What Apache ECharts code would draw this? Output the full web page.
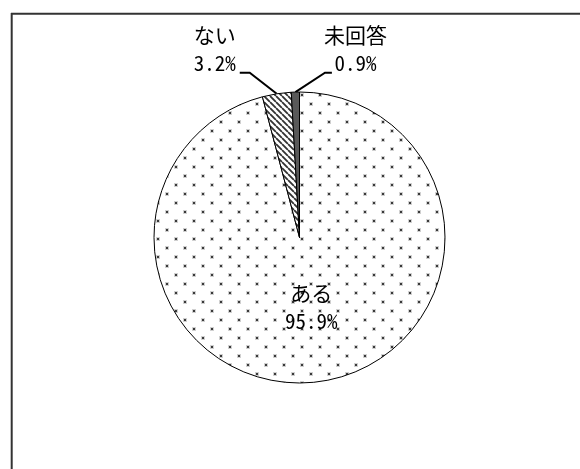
<!DOCTYPE html>
<html>
<head>
<meta charset="utf-8">
<script src="https://cdn.jsdelivr.net/npm/echarts@6/dist/echarts.min.js"></script>
<style>
html, body { margin: 0; padding: 0; background: #fff; }
#pie { width: 580px; height: 469px; }
</style>
</head>
<body>
<div id="pie"></div>
<script>
// データ
var categories = ['ある', 'ない', '未回答'];
var values = [95.9, 3.2, 0.9];

var labelFont = "'Noto Sans Mono CJK JP', 'Noto Sans CJK JP', sans-serif";

// 点描パターン（ある）
function makeDots() {
	var c = document.createElement('canvas');
	c.width = 18;
	c.height = 18;
	var g = c.getContext('2d');
	g.fillStyle = '#fff';
	g.fillRect(0, 0, 18, 18);
	g.fillStyle = '#d0d0d0';
	g.fillRect(3, 12, 4, 4);
	g.fillRect(12, 3, 4, 4);
	g.fillStyle = '#3a3a3a';
	g.fillRect(4, 13, 2, 2);
	g.fillRect(13, 4, 2, 2);
	return c;
}

// 斜線パターン（ない）
function makeHatch() {
	var c = document.createElement('canvas');
	c.width = 6;
	c.height = 6;
	var g = c.getContext('2d');
	g.fillStyle = '#fff';
	g.fillRect(0, 0, 6, 6);
	g.strokeStyle = '#333';
	g.lineWidth = 1.8;
	g.beginPath();
	for (var k = -6; k <= 6; k += 6) {
		g.moveTo(k, 0);
		g.lineTo(k + 6, 6);
	}
	g.stroke();
	return c;
}

var fills = [
	{ image: makeDots(), repeat: 'repeat' },
	{ image: makeHatch(), repeat: 'repeat' },
	'#595959'
];

var pieData = [];
for (var i = 0; i < categories.length; i++) {
	var item = {
		name: categories[i],
		value: values[i],
		itemStyle: { color: fills[i] }
	};
	if (i === 0) {
		item.label = { position: 'inside' };
	}
	pieData.push(item);
}

var myChart = echarts.init(document.getElementById('pie'), null, { renderer: 'canvas' });

var option = {
	animation: false,
	backgroundColor: '#fff',
	// 枠線（上・左）
	graphic: [
		{
			type: 'line',
			shape: { x1: 11, y1: 13.8, x2: 580, y2: 13.8 },
			style: { stroke: '#333', lineWidth: 2 }
		},
		{
			type: 'line',
			shape: { x1: 11.7, y1: 13, x2: 11.7, y2: 469 },
			style: { stroke: '#333', lineWidth: 2 }
		}
	],
	series: [
		{
			type: 'pie',
			center: [299.5, 237.5],
			radius: 145.5,
			startAngle: 90,
			clockwise: true,
			avoidLabelOverlap: false,
			emphasis: { disabled: true },
			itemStyle: {
				borderColor: '#000',
				borderWidth: 1
			},
			label: {
				show: true,
				position: 'outside',
				formatter: '{b}\n{c}%',
				color: '#000',
				fontSize: 21,
				lineHeight: 28,
				fontFamily: labelFont,
				textBorderWidth: 0
			},
			labelLine: {
				show: true,
				lineStyle: { color: '#000', width: 2 }
			},
			// ラベル位置の調整
			labelLayout: function (params) {
				var r = params.labelRect;
				if (params.dataIndex === 0) {
					return {
						x: r.x + r.width / 2 + 2,
						y: r.y + r.height / 2 - 6,
						align: 'center',
						verticalAlign: 'middle'
					};
				}
				var a = params.labelLinePoints[0];
				if (params.dataIndex === 1) {
					return {
						x: a[0] - 62,
						y: a[1] - 17,
						align: 'center',
						verticalAlign: 'bottom',
						labelLinePoints: [a, [a[0] - 27, a[1] - 21], [a[0] - 37, a[1] - 21]]
					};
				}
				return {
					x: a[0] + 60,
					y: a[1] - 15.5,
					align: 'center',
					verticalAlign: 'bottom',
					labelLinePoints: [a, [a[0] + 29.6, a[1] - 19.4], [a[0] + 36.5, a[1] - 19.4]]
				};
			},
			data: pieData
		}
	]
};

myChart.setOption(option);
</script>
</body>
</html>
